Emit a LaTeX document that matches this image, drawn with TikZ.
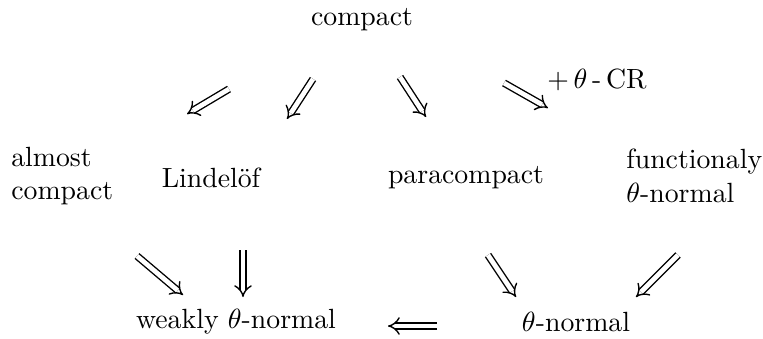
\documentclass[tikz,border=0pt]{standalone}
\usepackage{amsmath, amssymb}
\usetikzlibrary{arrows.meta}

\tikzset{
  prop/.style={inner sep=1pt},
  imp/.style={double, double distance=1.7pt, line width=0.5pt, -{Implies}},
}

\begin{document}
\begin{tikzpicture}[x=0.36pt, y=-0.36pt]
  \useasboundingbox (0,0) rectangle (763,338);

  % ── Properties ────────────────────────────────────────────────────
  \node[prop] (cpt)  at (362, 20) {compact};
  \node[prop, align=left, anchor=west] (acpt) at (8, 176) {almost\\compact};
  \node[prop] (lind) at (211, 178) {Lindel\"of};
  \node[prop] (para) at (466, 178) {paracompact};
  \node[prop, align=left, anchor=west] (fnor) at (623, 176) {functionaly\\$\theta$-normal};
  \node[prop] (wnor) at (236, 322) {weakly $\theta$-normal};
  \node[prop] (tnor) at (576, 322) {$\theta$-normal};
  \node[prop] (cr)   at (597, 80) {$+\,\theta$\,-\,CR};

  % ── Arrow ends ────────────────────────────────────────────────────
  \coordinate (a1) at (229, 89);  \coordinate (b1) at (187, 114);
  \coordinate (a2) at (313, 79);  \coordinate (b2) at (287, 119);
  \coordinate (a3) at (400, 77);  \coordinate (b3) at (426, 117);
  \coordinate (a4) at (504, 83);  \coordinate (b4) at (548, 108);
  \coordinate (a5) at (137, 256); \coordinate (b5) at (183, 295);
  \coordinate (a6) at (243, 250); \coordinate (b6) at (243, 297);
  \coordinate (a7) at (488, 255); \coordinate (b7) at (516, 297);
  \coordinate (a8) at (678, 255); \coordinate (b8) at (636, 297);
  \coordinate (a9) at (437, 326); \coordinate (b9) at (388, 326);

  % ── Implications ──────────────────────────────────────────────────
  \draw[imp] (a1) -- (b1);
  \draw[imp] (a2) -- (b2);
  \draw[imp] (a3) -- (b3);
  \draw[imp] (a4) -- (b4);
  \draw[imp] (a5) -- (b5);
  \draw[imp] (a6) -- (b6);
  \draw[imp] (a7) -- (b7);
  \draw[imp] (a8) -- (b8);
  \draw[imp] (a9) -- (b9);
\end{tikzpicture}
\end{document}
